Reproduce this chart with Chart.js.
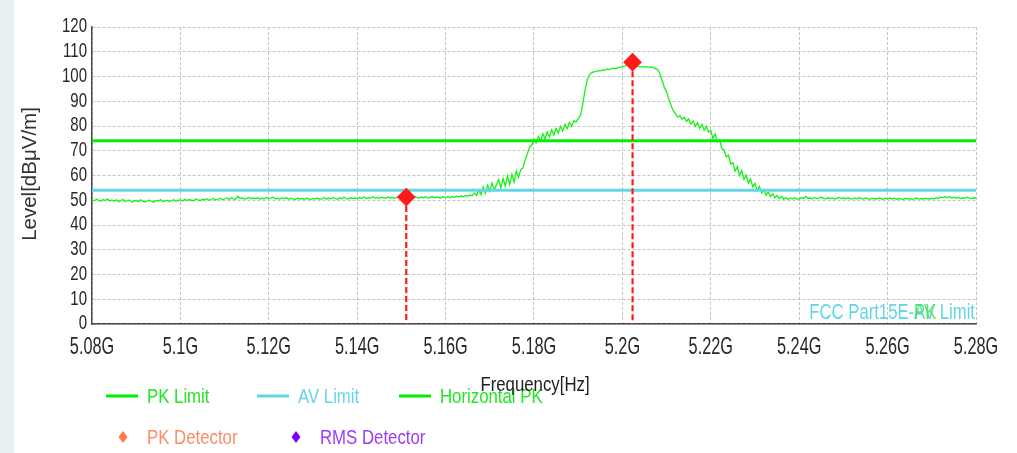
<!DOCTYPE html>
<html>
<head>
<meta charset="utf-8">
<script src="https://cdn.jsdelivr.net/npm/chart.js@4/dist/chart.umd.min.js"></script>
<style>
  html, body { margin: 0; padding: 0; background: #ffffff; }
  #strip { position: absolute; left: 0; top: 0; width: 14px; height: 453px; background: #e8eff3; }
  #wrap { position: absolute; left: 0; top: 0; width: 1017px; height: 453px; }
</style>
</head>
<body>
<div id="strip"></div>
<div id="wrap"><canvas id="c"></canvas></div>
<script>
// ---------- data ----------
const FREQ_START = 5.08;          // GHz
const FREQ_STEP = 0.0005;         // GHz per sweep point
const X_TICKS = [5.08, 5.10, 5.12, 5.14, 5.16, 5.18, 5.20, 5.22, 5.24, 5.26, 5.28];
const X_TICK_LABELS = ['5.08G', '5.1G', '5.12G', '5.14G', '5.16G', '5.18G', '5.2G', '5.22G', '5.24G', '5.26G', '5.28G'];
const Y_TICKS = [0, 10, 20, 30, 40, 50, 60, 70, 80, 90, 100, 110, 120];
const Y_TICK_LABELS = ['0', '10', '20', '30', '40', '50', '60', '70', '80', '90', '100', '110', '120'];

// Horizontal PK trace (dBµV/m), one value per sweep point
const HORIZONTAL_PK = [
  // 5.080
  50.2, 49.8, 50.4, 50.0, 49.6, 50.3, 49.9, 50.5, 49.7, 50.1, 49.6, 50.2, 49.4, 49.9, 50.3, 49.5, 49.8, 50.1, 49.3, 49.7,
  // 5.090
  49.9, 49.4, 50.2, 49.6, 49.3, 49.8, 50.0, 49.5, 49.2, 49.9, 49.6, 50.3, 49.4, 49.7, 50.0, 49.5, 49.8, 50.2, 49.6, 49.9,
  // 5.100
  50.1, 49.7, 50.4, 49.9, 50.3, 50.0, 49.8, 50.5, 50.1, 49.9, 50.4, 50.2, 50.6, 50.0, 50.3, 50.7, 50.1, 50.4, 50.8, 50.2,
  // 5.110
  50.5, 50.9, 50.3, 51.0, 50.6, 50.4, 51.7, 50.7, 50.9, 50.5, 50.8, 51.1, 50.6, 50.9, 50.7, 51.0, 50.5, 50.8, 50.6, 51.1,
  // 5.120
  50.7, 50.9, 51.2, 50.6, 50.8, 50.5, 50.9, 50.7, 51.0, 50.4, 50.8, 50.6, 50.3, 50.9, 50.5, 50.7, 50.4, 50.8, 50.6, 50.3,
  // 5.130
  50.7, 50.5, 50.9, 50.4, 50.6, 51.0, 50.5, 50.8, 50.6, 51.1, 50.7, 50.4, 50.9, 50.6, 51.2, 50.8, 50.5, 51.0, 50.7, 50.9,
  // 5.140
  50.6, 51.1, 50.8, 51.3, 50.7, 51.0, 50.9, 51.4, 50.8, 51.1, 50.7, 51.2, 51.0, 50.8, 51.3, 50.9, 51.1, 50.8, 51.2, 51.3,
  // 5.150
  51.3, 51.0, 51.4, 50.9, 51.2, 51.0, 51.5, 51.1, 50.9, 51.3, 51.0, 51.4, 50.9, 51.2, 51.5, 51.0, 51.3, 51.1, 50.9, 51.4,
  // 5.160
  51.1, 51.4, 51.0, 51.5, 51.2, 51.6, 51.3, 51.8, 51.4, 51.9, 51.6, 52.1, 51.8, 52.9, 51.9, 54.2, 52.3, 55.4, 52.8, 56.1,
  // 5.170
  53.6, 57.0, 54.2, 56.3, 58.4, 54.9, 58.8, 55.8, 59.7, 56.4, 60.5, 57.3, 61.8, 59.2, 62.4, 63.0, 66.5, 68.8, 71.5, 72.3,
  // 5.180
  74.6, 73.2, 75.8, 74.0, 76.9, 74.8, 77.6, 75.6, 78.5, 76.4, 79.1, 77.2, 79.9, 78.0, 80.6, 78.9, 81.5, 79.8, 82.1, 81.6,
  // 5.190
  83.0, 84.2, 88.5, 94.0, 98.5, 100.6, 101.5, 101.9, 102.1, 102.4, 102.3, 102.7, 102.6, 103.0, 102.8, 103.2, 103.4, 103.2, 103.6, 103.8,
  // 5.200
  104.0, 104.2, 104.6, 104.9, 104.5, 104.1, 104.0, 104.2, 103.9, 104.1, 103.8, 104.0, 103.7, 103.9, 103.6, 103.2, 102.8, 101.0, 98.4, 95.6,
  // 5.210
  93.8, 91.0, 88.4, 86.2, 85.0, 83.6, 84.2, 82.8, 83.5, 81.9, 82.9, 80.8, 82.0, 79.9, 81.3, 79.0, 80.6, 78.3, 79.8, 77.6,
  // 5.220
  78.2, 74.9, 76.8, 73.6, 74.4, 70.8, 70.2, 67.5, 68.3, 64.6, 65.2, 61.8, 63.6, 59.9, 62.1, 58.4, 60.2, 56.9, 58.6, 55.4,
  // 5.230
  56.8, 53.8, 55.6, 52.9, 54.3, 52.0, 53.4, 51.5, 52.6, 51.0, 52.0, 50.7, 51.5, 50.4, 51.2, 50.3, 50.9, 50.5, 51.1, 50.4,
  // 5.240
  50.6, 51.0, 50.7, 51.6, 50.8, 50.9, 50.6, 51.1, 50.7, 50.9, 51.2, 50.8, 50.6, 51.0, 50.7, 50.9, 50.5, 50.8, 51.1, 50.7,
  // 5.250
  50.9, 50.6, 51.0, 50.7, 50.5, 50.9, 50.6, 51.0, 50.8, 50.5, 50.9, 50.7, 50.4, 50.8, 50.6, 50.5, 50.9, 50.7, 50.4, 50.8,
  // 5.260
  50.6, 50.9, 50.5, 50.8, 50.4, 50.7, 50.6, 50.3, 50.8, 50.5, 50.7, 50.4, 50.6, 50.9, 50.5, 50.7, 50.4, 50.8, 50.6, 50.5,
  // 5.270
  50.8, 50.6, 51.0, 50.7, 51.3, 51.0, 51.5, 51.1, 51.4, 50.9, 51.2, 50.8, 51.1, 50.7, 51.0, 50.8, 51.2, 50.9, 50.7, 51.0,
  // 5.280
  50.9
];

const PK_LIMIT = 74;   // dBµV/m
const AV_LIMIT = 54;   // dBµV/m

// PK detector markers
const MARKER_FREQ = [5.1511, 5.2023];
const MARKER_LEVEL = [51.3, 105.8];

// ---------- chart ----------
const FREQS = HORIZONTAL_PK.map((_, i) => FREQ_START + i * FREQ_STEP);
const FAM = '"Liberation Sans", Arial, sans-serif';

const C_GREEN = '#00f000';
const C_TRACE = '#16f216';
const C_CYAN = '#62d6e4';
const C_RED = '#ff1a1a';

const markerDatasets = MARKER_FREQ.map((f, i) => ({
  label: 'marker line ' + i,
  data: [{ x: f, y: MARKER_LEVEL[i] }, { x: f, y: 0 }],
  borderColor: C_RED,
  borderWidth: 2.2,
  borderDash: [6, 3],
  pointRadius: 0,
  fill: false
}));

const datasets = [
  {
    label: 'PK Detector',
    data: MARKER_FREQ.map((f, i) => ({ x: f, y: MARKER_LEVEL[i] })),
    showLine: false,
    pointStyle: 'rectRot',
    pointRadius: 8.5,
    pointBackgroundColor: C_RED,
    pointBorderColor: C_RED,
    pointBorderWidth: 1.2
  },
  ...markerDatasets,
  {
    label: 'PK Limit',
    data: [{ x: X_TICKS[0], y: PK_LIMIT }, { x: X_TICKS[X_TICKS.length - 1], y: PK_LIMIT }],
    borderColor: C_GREEN,
    borderWidth: 3,
    pointRadius: 0
  },
  {
    label: 'AV Limit',
    data: [{ x: X_TICKS[0], y: AV_LIMIT }, { x: X_TICKS[X_TICKS.length - 1], y: AV_LIMIT }],
    borderColor: C_CYAN,
    borderWidth: 3,
    pointRadius: 0
  },
  {
    label: 'Horizontal PK',
    data: HORIZONTAL_PK.map((v, i) => ({ x: FREQS[i], y: v })),
    borderColor: C_TRACE,
    borderWidth: 1.3,
    pointRadius: 0,
    tension: 0
  }
];

const LEGEND_ITEMS = [
  { text: 'PK Limit', kind: 'line', color: C_GREEN, textColor: '#1ee81e', x: 106, y: 396 },
  { text: 'AV Limit', kind: 'line', color: C_CYAN, textColor: '#66d6e6', x: 257, y: 396 },
  { text: 'Horizontal PK', kind: 'line', color: C_GREEN, textColor: '#1ee81e', x: 399, y: 396 },
  { text: 'PK Detector', kind: 'diamond', color: '#ff7a45', textColor: '#ff8a65', x: 106, y: 437 },
  { text: 'RMS Detector', kind: 'diamond', color: '#7a00ff', textColor: '#9a3cff', x: 279, y: 437 }
];

// draws text with an independent vertical stretch
function stretchText(ctx, text, x, y, size, sy, align, color) {
  ctx.save();
  ctx.translate(x, y);
  ctx.scale(1, sy);
  ctx.font = size + 'px ' + FAM;
  ctx.textAlign = align;
  ctx.textBaseline = 'middle';
  ctx.fillStyle = color;
  ctx.fillText(text, 0, 0);
  ctx.restore();
}

const overlay = {
  id: 'overlay',
  afterDraw(chart) {
    const ctx = chart.ctx;
    const area = chart.chartArea;
    const xs = chart.scales.x, ys = chart.scales.y;
    ctx.save();

    // tick labels, placed through the scales
    Y_TICKS.forEach((v, i) => {
      stretchText(ctx, Y_TICK_LABELS[i], area.left - 5, ys.getPixelForValue(v) - 0.5, 15, 1.4, 'right', '#2a2626');
    });
    X_TICKS.forEach((v, i) => {
      stretchText(ctx, X_TICK_LABELS[i], xs.getPixelForValue(v), area.bottom + 23.5, 16.3, 1.5, 'center', '#2a2626');
    });

    // in-plot limit labels: AV label in cyan, the PK label's differing part shows in green
    const labSize = 16.7;
    ctx.font = labSize + 'px ' + FAM;
    const avText = 'FCC Part15E-AV Limit';
    const startX = area.right - 1 - ctx.measureText(avText).width;
    const pkX = startX + ctx.measureText('FCC Part15E-').width;
    stretchText(ctx, avText, startX, area.bottom - 11, labSize, 1.35, 'left', '#62d6e4');
    stretchText(ctx, 'PK', pkX, area.bottom - 11, labSize, 1.35, 'left', 'rgba(60,230,60,0.85)');

    // y axis title
    ctx.save();
    ctx.translate(30, 174);
    ctx.rotate(-Math.PI / 2);
    ctx.font = '20.5px ' + FAM;
    ctx.fillStyle = '#333333';
    ctx.textAlign = 'center';
    ctx.textBaseline = 'middle';
    ctx.fillText('Level[dBμV/m]', 0, 0);
    ctx.restore();

    // legend
    LEGEND_ITEMS.forEach(it => {
      if (it.kind === 'line') {
        ctx.strokeStyle = it.color;
        ctx.lineWidth = 3;
        ctx.beginPath();
        ctx.moveTo(it.x, it.y);
        ctx.lineTo(it.x + 32, it.y);
        ctx.stroke();
      } else {
        const cx = it.x + 17, cy = it.y;
        ctx.fillStyle = it.color;
        ctx.beginPath();
        ctx.moveTo(cx, cy - 6);
        ctx.lineTo(cx + 4.5, cy);
        ctx.lineTo(cx, cy + 6);
        ctx.lineTo(cx - 4.5, cy);
        ctx.closePath();
        ctx.fill();
      }
      stretchText(ctx, it.text, it.x + 41, it.y + 1, 16.8, 1.25, 'left', it.textColor);
    });

    // x axis title (drawn over legend as in reference)
    stretchText(ctx, 'Frequency[Hz]', 535, 385, 16.8, 1.25, 'center', '#1e1e1e');
    ctx.restore();
  }
};

new Chart(document.getElementById('c'), {
  type: 'line',
  data: { datasets },
  plugins: [overlay],
  options: {
    responsive: true,
    maintainAspectRatio: false,
    animation: false,
    events: [],
    layout: { padding: { left: 0, top: 27, right: 41, bottom: 0 } },
    plugins: { legend: { display: false }, tooltip: { enabled: false } },
    scales: {
      x: {
        type: 'linear',
        min: X_TICKS[0],
        max: X_TICKS[X_TICKS.length - 1],
        afterBuildTicks: s => { s.ticks = X_TICKS.map(v => ({ value: v })); },
        afterFit: s => { s.height = 129; },
        ticks: { display: false, autoSkip: false },
        grid: { color: '#c4c4c4', lineWidth: 1, drawTicks: false },
        border: { display: true, color: '#4a4a4a', width: 1.5, dash: [3, 2] }
      },
      y: {
        min: 0,
        max: 120,
        afterBuildTicks: s => { s.ticks = Y_TICKS.map(v => ({ value: v })); },
        afterFit: s => { s.width = 92; },
        ticks: { display: false, autoSkip: false },
        grid: { color: '#c4c4c4', lineWidth: 1, drawTicks: false },
        border: { display: true, color: '#4a4a4a', width: 1.5, dash: [3, 2] }
      }
    }
  }
});
</script>
</body>
</html>
